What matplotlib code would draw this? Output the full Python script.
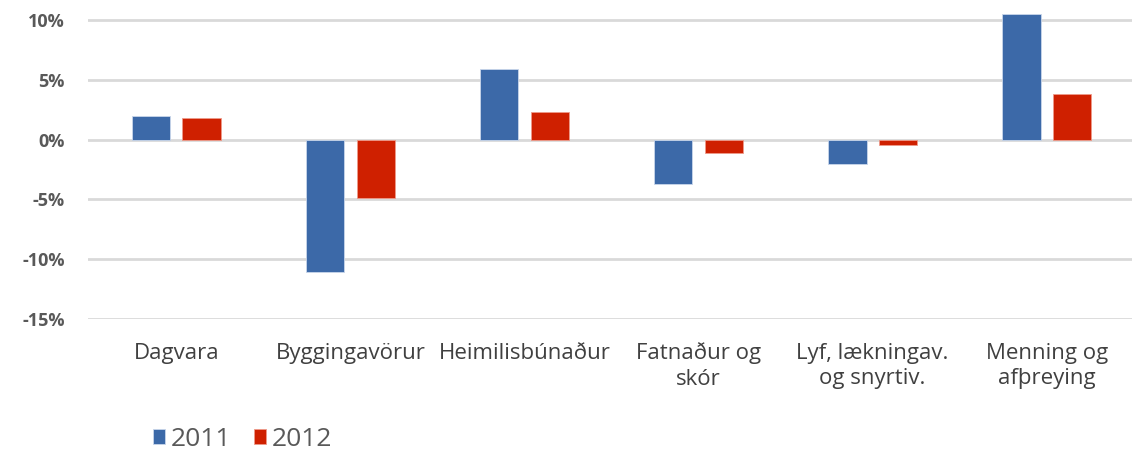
import matplotlib.pyplot as plt
import numpy as np

# Category labels and yearly change (%)
categories = ["Dagvara", "Byggingavörur", "Heimilisbúnaður", "Fatnaður og\nskór",
              "Lyf, lækningav.\nog snyrtiv.", "Menning og\nafþreying"]
years = ["2011", "2012"]
values_2011 = [2.0, -11.1, 5.9, -3.7, -2.0, 10.5]
values_2012 = [1.8, -4.9, 2.3, -1.1, -0.4, 3.8]
yticks = [-15, -10, -5, 0, 5, 10]

plt.rcParams['font.family'] = ['Open Sans', 'DejaVu Sans']

fig = plt.figure(figsize=(11.32, 4.55), dpi=100)
ax = fig.add_axes([0.078, 0.299, 0.922, 0.701])

x = np.arange(len(categories))
w = 0.22
off = 0.145
ax.bar(x - off, values_2011, w, color="#3c69a8", edgecolor="#c9d6ea", linewidth=0.6,
       label=years[0], zorder=3)
ax.bar(x + off, values_2012, w, color="#cf2000", edgecolor="#ee9a8a", linewidth=0.6,
       label=years[1], zorder=3)

ax.set_xlim(-0.506, 5.49)
ax.set_ylim(-15, 11.7)
ax.set_yticks(yticks)
ax.set_yticklabels([f"{v}%" for v in yticks], fontsize=13, fontweight="bold", color="#595959")
ax.set_xticks(x)
ax.set_xticklabels(categories, fontsize=16, color="#404040", linespacing=1.3)
ax.tick_params(axis="both", length=0)
ax.tick_params(axis="x", pad=17)
ax.tick_params(axis="y", pad=17)

ax.grid(axis="y", color="#d9d9d9", linewidth=2, zorder=0)
for s in ax.spines.values():
    s.set_visible(False)

fig.legend(loc="lower left", bbox_to_anchor=(0.114, -0.045), ncol=2, frameon=False,
           fontsize=19, handlelength=0.48, handleheight=0.48, handletextpad=0.2,
           columnspacing=0.85, labelcolor="#595959")

fig.savefig("out.png", dpi=100)
